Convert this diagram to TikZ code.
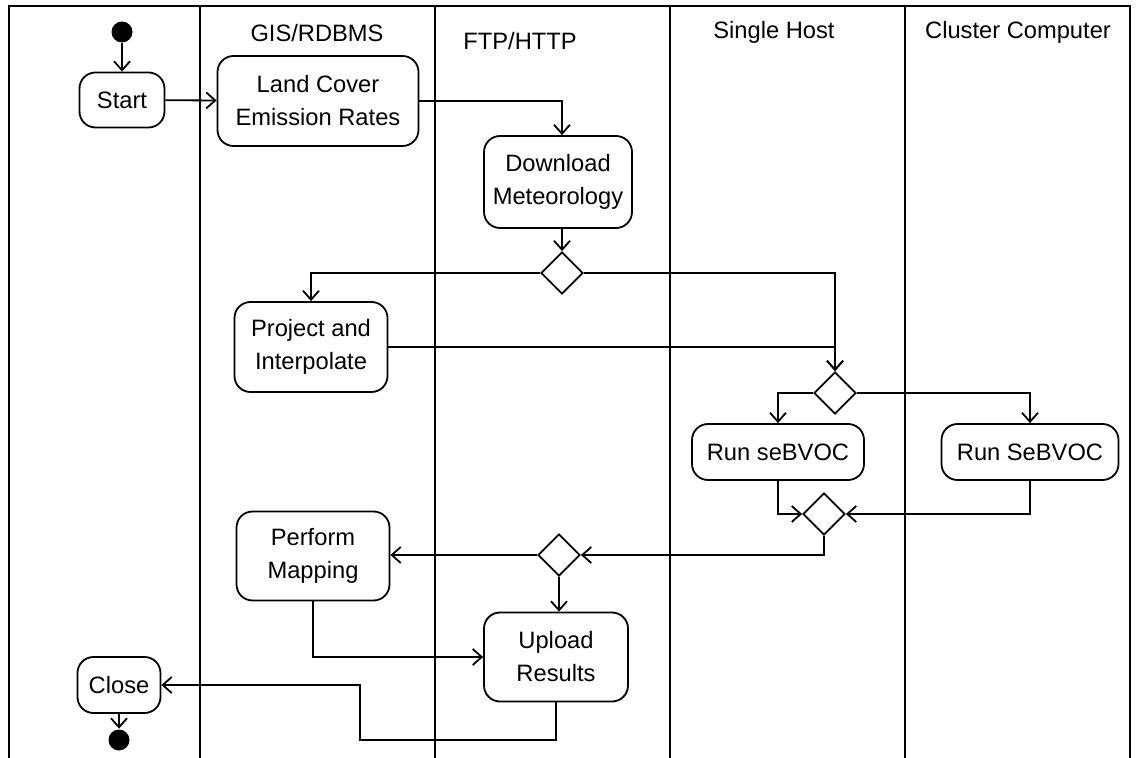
\documentclass[tikz,border=0pt]{standalone}
\usepackage{fontspec}
\setmainfont{Liberation Sans}
\usepackage{tikz}
\usetikzlibrary{calc}
\usetikzlibrary{arrows.meta}
\usetikzlibrary{shapes.geometric}

\begin{document}
\begin{tikzpicture}[x=0.5pt, y=-0.5pt, line width=0.9pt,
    every node/.style={font=\fontsize{11.85}{16.5}\selectfont},
    activity/.style={draw, rounded corners=8pt, align=center, inner sep=0pt},
    decision/.style={draw, diamond, inner sep=0pt, minimum width=21pt, minimum height=21pt},
    dot/.style={circle, fill=black, inner sep=0pt, minimum size=10.5pt},
    flow/.style={-{Straight Barb[length=4.5pt, width=8pt]}}]
    \useasboundingbox (0,0) rectangle (1139,758);
    % Swim lanes
    \draw (9,758) -- (9,6) -- (1130,6) -- (1130,758);
    \foreach \lx in {200, 435, 670, 905}
        \draw (\lx,6) -- (\lx,758);
    \node (hgis)     at ( 317, 33) {GIS/RDBMS};
    \node (hftp)     at ( 520, 41) {FTP/HTTP};
    \node (hsingle)  at ( 774, 32) {Single Host};
    \node (hcluster) at (1018, 32) {Cluster Computer};
    % Activities
    \node[dot]                                                   (init)     at ( 122, 32) {};
    \node[activity, minimum width=42.5pt, minimum height=27.5pt] (start)    at ( 122,100) {Start};
    \node[activity, minimum width=100.5pt, minimum height=45pt]  (land)     at ( 318,101) {Land Cover\\Emission Rates};
    \node[activity, minimum width=74pt, minimum height=46pt]     (download) at ( 558,182) {Download\\Meteorology};
    \node[activity, minimum width=76.5pt, minimum height=45pt]   (project)  at ( 311,347) {Project and\\Interpolate};
    \node[activity, minimum width=86pt, minimum height=28pt]     (runs)     at ( 778,452) {Run seBVOC};
    \node[activity, minimum width=88.5pt, minimum height=28pt]   (runc)     at (1030,452) {Run SeBVOC};
    \node[activity, minimum width=76.5pt, minimum height=44.5pt] (perform)  at ( 313,556) {Perform\\Mapping};
    \node[activity, minimum width=72pt, minimum height=44.5pt]   (upload)   at ( 556,657) {Upload\\Results};
    \node[activity, minimum width=41.5pt, minimum height=28pt]   (close)    at ( 119,685) {Close};
    \node[dot]                                                   (final)    at ( 119,740) {};
    % Decisions
    \node[decision] (d1) at (562,273) {};
    \node[decision] (d2) at (835,393) {};
    \node[decision] (d3) at (824,514) {};
    \node[decision] (d4) at (559,555) {};
    \coordinate (back) at (360,740);
    % Flows
    \draw[flow] (init) -- (start);
    \draw[flow] (start) -- (land);
    \draw[flow] (land.east) -| (d1.north |- download.north);
    \draw[flow] (d1.north |- download.south) -- (d1.north);
    \draw[flow] (d1.west) -| (project.north);
    \draw[flow] (d1.east) -| (d2.north);
    \draw[flow] (project.east) -| (d2.north);
    \draw[flow] (d2.west) -| (runs.north);
    \draw[flow] (d2.east) -| (runc.north);
    \draw[flow] (runs.south) |- (d3.west);
    \draw[flow] (runc.south) |- (d3.east);
    \draw[flow] (d3.south) |- (d4.east);
    \draw[flow] (d4.west) -- (d4.west -| perform.east);
    \draw[flow] (d4.south) -- (d4.south |- upload.north);
    \draw[flow] (perform.south) |- (upload.west);
    \draw[flow] (upload.south) |- (back) |- (close.east);
    \draw[flow] (close) -- (final);
\end{tikzpicture}
\end{document}
